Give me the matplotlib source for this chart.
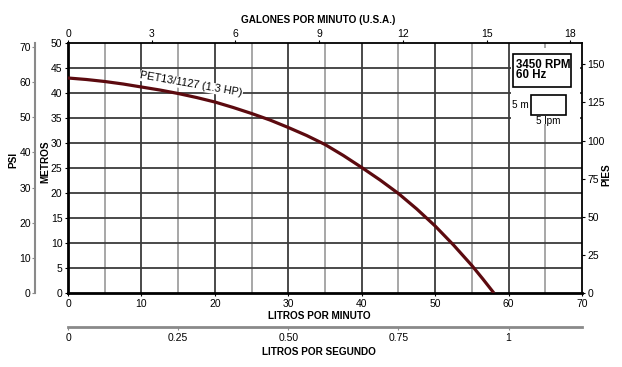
import matplotlib
matplotlib.use('Agg')
import matplotlib.pyplot as plt
from matplotlib.patches import Rectangle

# curve data (litros por minuto vs metros)
lpm = [0, 2.5, 5, 7.5, 10, 12.5, 15, 17.5, 20, 22.5, 25, 27.5, 30, 32.5,
       35, 37.5, 40, 42.5, 45, 47.5, 50, 52.5, 55, 56.5, 58.0]
metros = [43.0, 42.7, 42.3, 41.8, 41.2, 40.6, 39.9, 39.1, 38.2, 37.1, 35.9, 34.6, 33.1, 31.5,
          29.7, 27.5, 25.1, 22.6, 19.9, 16.8, 13.4, 9.6, 5.5, 2.8, 0]
curve_label = 'PET13/1127 (1.3 HP)'

x_ticks = [0, 10, 20, 30, 40, 50, 60, 70]
m_ticks = [0, 5, 10, 15, 20, 25, 30, 35, 40, 45, 50]
psi_ticks = [0, 10, 20, 30, 40, 50, 60, 70]
pies_ticks = [0, 25, 50, 75, 100, 125, 150]
gal_ticks = [0, 3, 6, 9, 12, 15, 18]
lps_ticks = [0, 0.25, 0.5, 0.75, 1]
lps_labels = ['0', '0.25', '0.50', '0.75', '1']

M_PER_PSI = 0.70307
FT_PER_M = 3.2808
LPM_PER_GAL = 3.8

plt.rcParams['font.family'] = ['Liberation Sans', 'DejaVu Sans']
tick_fs = 7.5
title_fs = 7.2

fig = plt.figure(figsize=(6.22, 3.67), dpi=100)
ax = fig.add_axes([68 / 622, 1 - 293 / 367, 514 / 622, 250 / 367])
ax.set_xlim(0, 70)
ax.set_ylim(0, 50)

# grid
for v in range(5, 70, 10):
    ax.axvline(v, color='#a0a0a0', lw=1.3, zorder=1)
for v in range(10, 70, 10):
    ax.axvline(v, color='#3c3c3c', lw=1.3, zorder=1)
for h in range(5, 50, 5):
    ax.axhline(h, color='#3c3c3c', lw=1.3, zorder=1)

ax.set_xticks(x_ticks)
ax.set_yticks(m_ticks)
ax.tick_params(labelsize=tick_fs, length=2.5, width=0.8, pad=1.5)
for s in ['left', 'bottom']:
    ax.spines[s].set_linewidth(2)
for s in ['top', 'right']:
    ax.spines[s].set_linewidth(1.3)

# pump curve
ax.plot(lpm, metros, color='#5c0a0f', lw=2.3, zorder=5, solid_capstyle='butt',
        solid_joinstyle='round')
ax.text(16.8, 41.7, curve_label, rotation=-10, ha='center', va='center',
        fontsize=7.8, zorder=4,
        bbox=dict(facecolor='white', edgecolor='none', pad=0.3))

# legend boxes on the right
ax.add_patch(Rectangle((60.3, 33.8), 9.4, 15.2, facecolor='white', edgecolor='none', zorder=2))
ax.add_patch(Rectangle((60.56, 41.26), 7.94, 6.48, facecolor='white', edgecolor='black', lw=1.2, zorder=3))
ax.text(60.95, 44.6, '3450 RPM\n60 Hz', fontsize=8.3, fontweight='bold', va='center', ha='left',
        linespacing=0.85, zorder=4)
ax.add_patch(Rectangle((63.05, 35.6), 4.73, 4.0, facecolor='white', edgecolor='black', lw=1.2, zorder=3))
ax.text(62.8, 37.6, '5 m', fontsize=7.2, ha='right', va='center', zorder=4)
ax.text(65.4, 34.4, '5 lpm', fontsize=7.2, ha='center', va='center', zorder=4)

# PSI axis (outer left)
ax_psi = ax.twinx()
ax_psi.set_ylim(0, 50 / M_PER_PSI)
ax_psi.yaxis.set_ticks_position('left')
ax_psi.yaxis.set_label_position('left')
ax_psi.spines['left'].set_position(('axes', -33 / 514))
ax_psi.spines['left'].set_color('#8a8a8a')
ax_psi.spines['left'].set_linewidth(1.5)
ax_psi.spines['left'].set_bounds(0, 71)
for s in ['right', 'top', 'bottom']:
    ax_psi.spines[s].set_visible(False)
ax_psi.set_yticks(psi_ticks)
ax_psi.tick_params(labelsize=tick_fs, length=2, width=0.8, pad=1, color='#8a8a8a')

# PIES axis (right)
ax_ft = ax.twinx()
ax_ft.set_ylim(0, 50 * FT_PER_M)
for s in ['left', 'top', 'bottom', 'right']:
    ax_ft.spines[s].set_visible(False)
ax_ft.set_yticks(pies_ticks)
ax_ft.tick_params(labelsize=tick_fs, length=2.5, width=0.8, pad=1.5)

# gallons axis (top)
ax_gal = ax.secondary_xaxis('top', functions=(lambda x: x / LPM_PER_GAL, lambda g: g * LPM_PER_GAL))
ax_gal.set_xticks(gal_ticks)
ax_gal.tick_params(labelsize=tick_fs, length=2, width=0.8, pad=1)
ax_gal.spines['top'].set_visible(False)

# litros por segundo axis (lower)
ax_lps = ax.secondary_xaxis(-34 / 250, functions=(lambda x: x / 60, lambda s: s * 60))
ax_lps.set_xticks(lps_ticks)
ax_lps.set_xticklabels(lps_labels)
ax_lps.spines['bottom'].set_color('#8a8a8a')
ax_lps.spines['bottom'].set_linewidth(2)
ax_lps.tick_params(labelsize=tick_fs, length=2, width=0.8, pad=2, color='#8a8a8a')

# axis titles
fig.text(319 / 622, 1 - 316 / 367, 'LITROS POR MINUTO', ha='center', va='center',
         fontsize=title_fs, fontweight='bold')
fig.text(319 / 622, 1 - 352 / 367, 'LITROS POR SEGUNDO', ha='center', va='center',
         fontsize=title_fs, fontweight='bold')
fig.text(318 / 622, 1 - 20 / 367, 'GALONES POR MINUTO (U.S.A.)', ha='center', va='center',
         fontsize=title_fs, fontweight='bold')
fig.text(45 / 622, 1 - 162 / 367, 'METROS', rotation=90, ha='center', va='center',
         fontsize=title_fs, fontweight='bold')
fig.text(13 / 622, 1 - 160 / 367, 'PSI', rotation=90, ha='center', va='center',
         fontsize=title_fs, fontweight='bold')
fig.text(606 / 622, 1 - 175 / 367, 'PIES', rotation=90, ha='center', va='center',
         fontsize=title_fs, fontweight='bold')

fig.savefig('out.png', dpi=100)
